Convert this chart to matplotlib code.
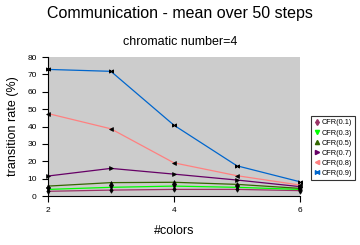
import matplotlib
matplotlib.use("Agg")
import matplotlib.pyplot as plt
from matplotlib.lines import Line2D

plt.rcParams['font.family'] = ['Liberation Sans', 'DejaVu Sans']

colors_x = [2, 3, 4, 5, 6]
series_names = ['CFR(0.1)', 'CFR(0.3)', 'CFR(0.5)', 'CFR(0.7)', 'CFR(0.8)', 'CFR(0.9)']
cfr01 = [2.7, 3.4, 3.8, 3.8, 3.1]
cfr03 = [3.8, 5.0, 5.7, 5.0, 3.8]
cfr05 = [5.7, 7.7, 7.9, 6.7, 4.4]
cfr07 = [11.5, 15.9, 12.6, 9.2, 5.4]
cfr08 = [47.5, 38.7, 19.1, 11.7, 6.3]
cfr09 = [72.9, 71.8, 40.8, 17.4, 8.2]
y_ticks = [0, 10, 20, 30, 40, 50, 60, 70, 80]
x_ticks = [2, 4, 6]

series = [cfr01, cfr03, cfr05, cfr07, cfr08, cfr09]
line_colors = ['#993366', '#00FF00', '#336600', '#660066', '#FF8080', '#0066CC']
markers = ['d', 'v', '^', '>', '<', '$\\bowtie$']

fig = plt.figure(figsize=(3.6, 2.45), dpi=100)
ax = fig.add_axes([0.133, 0.2, 0.7, 0.567])
ax.set_facecolor('#CCCCCC')

handles = []
for vals, col, mk, name in zip(series, line_colors, markers, series_names):
    ax.plot(colors_x, vals, color=col, lw=0.9, zorder=2)
    ax.plot(colors_x, vals, ls='none', marker=mk, ms=2.8, color='black',
            mec='black', mew=0.5, zorder=3, clip_on=False)
    handles.append(Line2D([], [], ls='none', marker=mk, ms=3, color=col,
                          mec=col, label=name))

ax.set_xlim(2, 6)
ax.set_ylim(0, 80)
ax.set_xticks(x_ticks)
ax.set_yticks(y_ticks)
ax.tick_params(axis='both', direction='out', length=4, width=0.8,
               labelsize=6, pad=4)
for s in ['top', 'right']:
    ax.spines[s].set_visible(False)
for s in ['left', 'bottom']:
    ax.spines[s].set_linewidth(0.8)

ax.set_xlabel('#colors', fontsize=9, labelpad=8)
ax.set_ylabel('transition rate (%)', fontsize=9, labelpad=6)

fig.text(0.5, 0.945, 'Communication - mean over 50 steps', ha='center',
         va='center', fontsize=11.5)
fig.text(0.5, 0.83, 'chromatic number=4', ha='center', va='center',
         fontsize=9)

leg = fig.legend(handles=handles, loc='upper left',
                 bbox_to_anchor=(0.855, 0.54), fontsize=5.3,
                 frameon=True, fancybox=False, edgecolor='black',
                 handlelength=0.6, handletextpad=0.4, labelspacing=0.4,
                 borderpad=0.4)
leg.get_frame().set_linewidth(0.8)

fig.savefig('out.png', dpi=100)
